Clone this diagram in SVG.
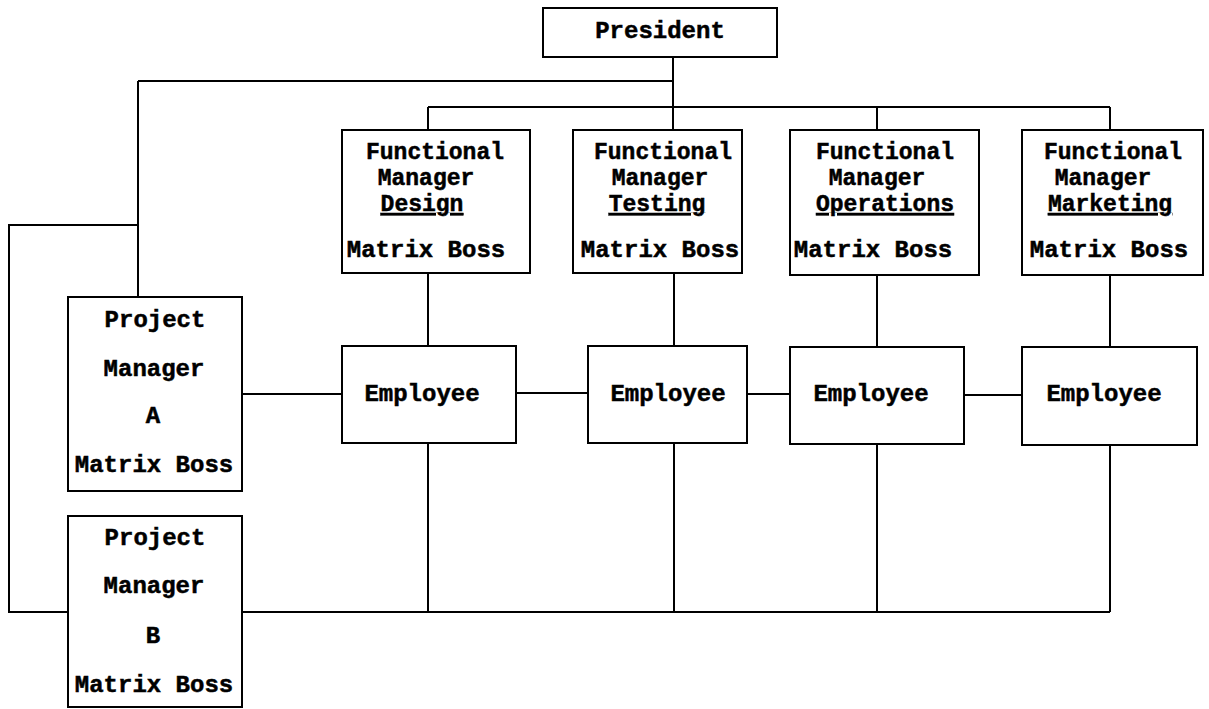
<svg xmlns="http://www.w3.org/2000/svg" width="1209" height="709" viewBox="0 0 1209 709">
<style>
rect.box{fill:#fff;stroke:#000;stroke-width:2}
#connectors line,#connectors polyline{stroke:#000;stroke-width:2;fill:none}
text{font-family:"Liberation Mono","Courier New",monospace;font-weight:bold;font-size:24px;fill:#000;stroke:#000;stroke-width:0.5;text-anchor:middle}
.fm{font-size:23px}
.u{text-decoration:underline}
</style>
<rect width="1209" height="709" fill="#fff"/>
<g id="connectors">
<line x1="673" y1="57" x2="673" y2="130"/>
<line x1="138" y1="81" x2="673" y2="81"/>
<line x1="138" y1="81" x2="138" y2="297"/>
<polyline points="138,225 9,225 9,612 68,612"/>
<line x1="428" y1="107" x2="1110" y2="107"/>
<line x1="428" y1="107" x2="428" y2="130"/>
<line x1="877" y1="107" x2="877" y2="130"/>
<line x1="1110" y1="107" x2="1110" y2="130"/>
<line x1="428" y1="273" x2="428" y2="346"/>
<line x1="674" y1="273" x2="674" y2="346"/>
<line x1="877" y1="275" x2="877" y2="347"/>
<line x1="1110" y1="275" x2="1110" y2="347"/>
<line x1="242" y1="394" x2="342" y2="394"/>
<line x1="516" y1="393" x2="588" y2="393"/>
<line x1="747" y1="394" x2="790" y2="394"/>
<line x1="964" y1="395" x2="1022" y2="395"/>
<line x1="428" y1="443" x2="428" y2="612"/>
<line x1="674" y1="443" x2="674" y2="612"/>
<line x1="877" y1="444" x2="877" y2="612"/>
<line x1="1110" y1="445" x2="1110" y2="612"/>
<line x1="242" y1="612" x2="1110" y2="612"/>
</g>
<g id="president">
<rect class="box" x="543" y="8" width="234" height="49"/>
<text x="660" y="38">President</text>
</g>
<g id="fm-design">
<rect class="box" x="342" y="130" width="188" height="143"/>
<text class="fm" x="435" y="159">Functional</text>
<text class="fm" x="426" y="185">Manager</text>
<text class="fm u" x="422" y="211">Design</text>
<text x="426" y="257">Matrix Boss</text>
</g>
<g id="fm-testing">
<rect class="box" x="573" y="130" width="169" height="143"/>
<text class="fm" x="663" y="159">Functional</text>
<text class="fm" x="660" y="185">Manager</text>
<text class="fm u" x="657" y="211">Testing</text>
<text x="660" y="257">Matrix Boss</text>
</g>
<g id="fm-operations">
<rect class="box" x="790" y="130" width="189" height="145"/>
<text class="fm" x="885" y="159">Functional</text>
<text class="fm" x="877" y="185">Manager</text>
<text class="fm u" x="885" y="211">Operations</text>
<text x="873" y="257">Matrix Boss</text>
</g>
<g id="fm-marketing">
<rect class="box" x="1022" y="130" width="181" height="145"/>
<text class="fm" x="1113" y="159">Functional</text>
<text class="fm" x="1103" y="185">Manager</text>
<text class="fm u" x="1110" y="211">Marketing</text>
<text x="1109" y="257">Matrix Boss</text>
</g>
<g id="employee-1">
<rect class="box" x="342" y="346" width="174" height="97"/>
<text x="422" y="401">Employee</text>
</g>
<g id="employee-2">
<rect class="box" x="588" y="346" width="159" height="97"/>
<text x="668" y="401">Employee</text>
</g>
<g id="employee-3">
<rect class="box" x="790" y="347" width="174" height="97"/>
<text x="871" y="401">Employee</text>
</g>
<g id="employee-4">
<rect class="box" x="1022" y="347" width="175" height="98"/>
<text x="1104" y="401">Employee</text>
</g>
<g id="pm-a">
<rect class="box" x="68" y="297" width="174" height="194"/>
<text x="155" y="327">Project</text>
<text x="154" y="376">Manager</text>
<text x="153" y="423">A</text>
<text x="154" y="472">Matrix Boss</text>
</g>
<g id="pm-b">
<rect class="box" x="68" y="516" width="174" height="191"/>
<text x="155" y="545">Project</text>
<text x="154" y="593">Manager</text>
<text x="153" y="643">B</text>
<text x="154" y="692">Matrix Boss</text>
</g>
</svg>
